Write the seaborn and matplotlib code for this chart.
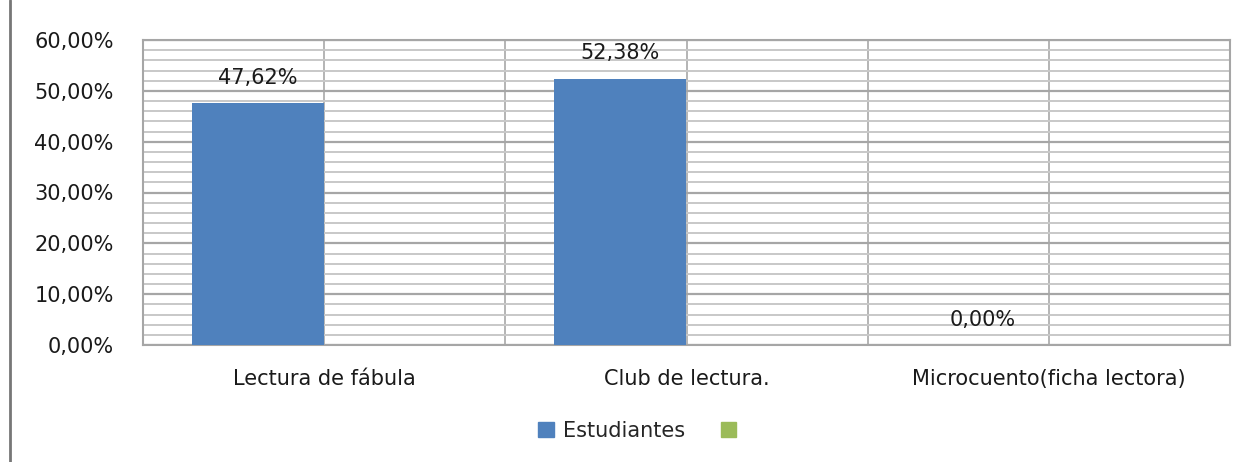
import matplotlib
matplotlib.use('Agg')
import matplotlib.pyplot as plt
from matplotlib.lines import Line2D
from matplotlib.patches import Patch
from matplotlib.ticker import MultipleLocator, FuncFormatter
import seaborn as sns
import pandas as pd

### data
categories = ['Lectura de fábula', 'Club de lectura.', 'Microcuento(ficha lectora)']
estudiantes = [47.62, 52.38, 0.00]
otra_serie = [0.0, 0.0, 0.0]   # second series, no name, nothing drawn
series_names = ['Estudiantes', ' ']

### style
sns.set_theme(style='white')
plt.rcParams['font.family'] = ['DejaVu Sans']

BLUE = '#4F81BD'
GREEN = '#9BBB59'
FS = 15
TXT = '#1a1a1a'

df = pd.DataFrame({
    'categoria': categories * 2,
    'valor': estudiantes + otra_serie,
    'serie': [series_names[0]] * 3 + [series_names[1]] * 3,
})

fig = plt.figure(figsize=(12.52, 4.62), dpi=100)
ax = fig.add_axes([143 / 1252, 1 - 345 / 462, (1230 - 143) / 1252, (345 - 40) / 462])

sns.barplot(data=df, x='categoria', y='valor', hue='serie',
            palette=[BLUE, GREEN], width=0.73, saturation=1,
            legend=False, ax=ax, zorder=3, linewidth=0)

ax.set_ylim(0, 60)
ax.set_xlim(-0.5, len(categories) - 0.5)

# y grid: major every 10, minor every 2
ax.yaxis.set_major_locator(MultipleLocator(10))
ax.yaxis.set_minor_locator(MultipleLocator(2))
ax.yaxis.set_major_formatter(FuncFormatter(lambda v, p: f'{v:.2f}%'.replace('.', ',')))
ax.grid(axis='y', which='major', color='#a6a6a6', linewidth=1.6, zorder=0)
ax.grid(axis='y', which='minor', color='#c8c8c8', linewidth=1.4, zorder=0)

# x grid: category centres and boundaries
ax.set_xticks(range(len(categories)))
ax.set_xticks([i - 0.5 for i in range(len(categories) + 1)], minor=True)
ax.grid(axis='x', which='both', color='#b4b4b4', linewidth=1.4, zorder=0)

ax.set_xlabel('')
ax.set_ylabel('')
ax.tick_params(axis='both', which='both', length=0)
ax.tick_params(axis='y', pad=21, labelsize=FS, labelcolor=TXT)
ax.tick_params(axis='x', pad=17, labelsize=FS, labelcolor=TXT)
ax.set_xticklabels(categories)

for s in ax.spines.values():
    s.set_color('#a6a6a6')
    s.set_linewidth(1.5)

# data labels on the Estudiantes bars only
ax.bar_label(ax.containers[0], labels=[f'{v:.2f}%'.replace('.', ',') for v in estudiantes],
             padding=11, fontsize=FS, color=TXT)

# legend
handles = [Patch(facecolor=BLUE, edgecolor=BLUE), Patch(facecolor=GREEN, edgecolor=GREEN)]
fig.legend(handles, ['Estudiantes', ''], loc='center', bbox_to_anchor=(642 / 1252, 1 - 431 / 462),
           ncol=2, frameon=False, fontsize=FS, handlelength=0.75, handleheight=0.75,
           handletextpad=0.45, columnspacing=1.7)

# left frame line of the original picture
fig.add_artist(Line2D([10 / 1252, 10 / 1252], [0, 1], color='#777777', linewidth=2,
                      transform=fig.transFigure))

fig.savefig('out.png', dpi=100)
